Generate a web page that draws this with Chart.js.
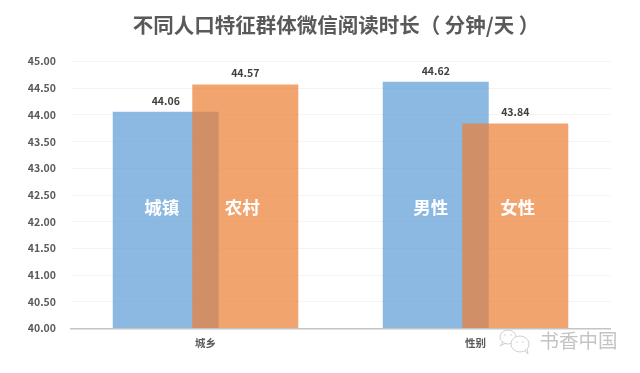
<!DOCTYPE html>
<html><head><meta charset="utf-8">
<style>html,body{margin:0;padding:0;background:#fff}canvas{display:block}</style>
<script src="https://cdn.jsdelivr.net/npm/chart.js@4"></script></head>
<body><canvas id="c" width="640" height="373"></canvas>
<script>
const titleText = '不同人口特征群体微信阅读时长（ 分钟/天 ）';
const categories = ['城乡', '性别'];
const blueValues = [44.06, 44.62];
const orangeValues = [44.57, 43.84];
const blueNames = ['城镇', '男性'];
const orangeNames = ['农村', '女性'];
const watermark = '书香中国';
const FONT = '"Noto Sans CJK SC","Noto Sans",sans-serif';

const overlayPlugin = {
  id: 'overlay',
  afterLayout(chart) {
    // let the tick labels use the whole left margin
    chart.scales.y.left = 0;
  },
  beforeDatasetsDraw(chart) {
    // the second series is painted over the first, as in the original
    chart.data.datasets.forEach((d, i) => chart.getDatasetMeta(i).controller.draw());
    return false;
  },
  afterDraw(chart) {
    const ctx = chart.ctx, y = chart.scales.y;
    ctx.save();
    ctx.textAlign = 'center'; ctx.textBaseline = 'middle';
    const nameY = y.getPixelForValue(42.27);
    chart.data.datasets.forEach((d, i) => {
      chart.getDatasetMeta(i).data.forEach((bar, j) => {
        ctx.font = 'bold 10.5px ' + FONT; ctx.fillStyle = '#404040';
        ctx.fillText(d.data[j].toFixed(2), bar.x, bar.y - 11);
        ctx.font = 'bold 17.5px ' + FONT; ctx.fillStyle = '#ffffff';
        ctx.fillText(d.names[j], bar.x + (j === 0 ? (i === 0 ? -4 : -3) : (i === 0 ? -5 : 2.5)), nameY);
      });
    });
    // watermark
    ctx.font = '19.5px ' + FONT; ctx.fillStyle = '#c4c4c4'; ctx.textAlign = 'left';
    ctx.fillText(watermark, 539.5, 340.5);
    ctx.strokeStyle = '#cfcfcf'; ctx.lineWidth = 1;
    ctx.beginPath(); ctx.ellipse(508, 337, 8, 7, 0, 0, Math.PI * 2); ctx.stroke();
    ctx.fillStyle = '#fff';
    ctx.beginPath(); ctx.ellipse(520, 344, 9, 8, 0, 0, Math.PI * 2); ctx.fill(); ctx.stroke();
    ctx.beginPath(); ctx.moveTo(525, 351); ctx.lineTo(528, 354); ctx.lineTo(527, 349); ctx.stroke();
    ctx.beginPath(); ctx.moveTo(503, 342); ctx.lineTo(500, 346); ctx.lineTo(506, 343); ctx.stroke();
    ctx.fillStyle = '#cfcfcf';
    [[505, 335], [511, 335], [517, 342], [523, 342]].forEach(p => {
      ctx.beginPath(); ctx.arc(p[0], p[1], 0.8, 0, Math.PI * 2); ctx.fill();
    });
    ctx.restore();
  }
};

new Chart(document.getElementById('c'), {
  type: 'bar',
  data: {
    labels: categories,
    datasets: [
      { data: blueValues, names: blueNames, base: 40, backgroundColor: 'rgba(91,155,213,0.7)' },
      { data: orangeValues, names: orangeNames, base: 40, backgroundColor: 'rgba(237,125,49,0.7)' }
    ]
  },
  plugins: [overlayPlugin],
  options: {
    responsive: false,
    animation: false,
    categoryPercentage: 0.589,
    barPercentage: 1.333,
    layout: { padding: { left: 61.5, right: 29.5, top: 0, bottom: 0 } },
    plugins: {
      legend: { display: false },
      tooltip: { enabled: false },
      title: {
        display: true, text: titleText, color: '#595959',
        font: { family: FONT, size: 20.5, weight: 'bold', lineHeight: 1.2 },
        padding: { top: 12.5, bottom: 24.4 }
      }
    },
    scales: {
      x: {
        afterFit(s) { s.height = 44.5; },
        grid: { display: false, drawTicks: false },
        border: { color: '#c4c4c4', width: 1.5 },
        ticks: { color: '#595959', font: { family: FONT, size: 10.5, weight: 'bold' }, padding: 8 }
      },
      y: {
        min: 40, max: 45,
        afterFit(s) { s.width = 9; },
        grid: { color: '#f3f3f3', drawTicks: false },
        border: { display: false },
        ticks: {
          stepSize: 0.5, padding: 14.5, color: '#595959',
          font: { family: FONT, size: 10.5, weight: 'bold' },
          callback: v => v.toFixed(2)
        }
      }
    }
  }
});
</script></body></html>
